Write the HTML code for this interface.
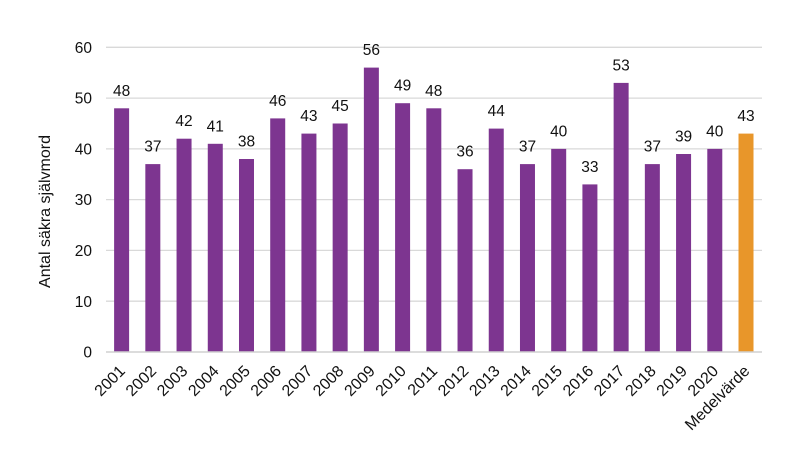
<!DOCTYPE html>
<html>
<head>
<meta charset="utf-8">
<style>
html,body{margin:0;padding:0;background:#fff;}
svg{display:block;}
text{font-family:"Liberation Sans",Arial,sans-serif;fill:#111;}
</style>
</head>
<body>
<svg width="800" height="450" viewBox="0 0 800 450" xmlns="http://www.w3.org/2000/svg">
<rect width="800" height="450" fill="#fff"/>
<!-- gridlines -->
<g stroke="#d9d9d9" stroke-width="1.3">
<line x1="106" x2="762" y1="47.3" y2="47.3"/>
<line x1="106" x2="762" y1="98.1" y2="98.1"/>
<line x1="106" x2="762" y1="148.9" y2="148.9"/>
<line x1="106" x2="762" y1="199.6" y2="199.6"/>
<line x1="106" x2="762" y1="250.4" y2="250.4"/>
<line x1="106" x2="762" y1="301.2" y2="301.2"/>
</g>
<!-- y tick labels -->
<g font-size="15.5" text-anchor="end">
<text x="92" y="52.9">60</text>
<text x="92" y="103.7">50</text>
<text x="92" y="154.5">40</text>
<text x="92" y="205.2">30</text>
<text x="92" y="256">20</text>
<text x="92" y="306.8">10</text>
<text x="92" y="357.6">0</text>
</g>
<!-- y axis title -->
<text font-size="16" text-anchor="middle" transform="translate(50,211.5) rotate(-90)">Antal säkra självmord</text>
<!-- bars -->
<g fill="#7d3590">
<rect x="114.11" y="108.3" width="15" height="243.7"/>
<rect x="145.33" y="164.1" width="15" height="187.9"/>
<rect x="176.55" y="138.7" width="15" height="213.3"/>
<rect x="207.77" y="143.8" width="15" height="208.2"/>
<rect x="238.99" y="159.0" width="15" height="193.0"/>
<rect x="270.21" y="118.4" width="15" height="233.6"/>
<rect x="301.43" y="133.6" width="15" height="218.4"/>
<rect x="332.65" y="123.5" width="15" height="228.5"/>
<rect x="363.87" y="67.6" width="15" height="284.4"/>
<rect x="395.09" y="103.2" width="15" height="248.8"/>
<rect x="426.31" y="108.3" width="15" height="243.7"/>
<rect x="457.53" y="169.2" width="15" height="182.8"/>
<rect x="488.75" y="128.6" width="15" height="223.4"/>
<rect x="519.97" y="164.1" width="15" height="187.9"/>
<rect x="551.19" y="148.9" width="15" height="203.1"/>
<rect x="582.41" y="184.4" width="15" height="167.6"/>
<rect x="613.63" y="82.9" width="15" height="269.1"/>
<rect x="644.85" y="164.1" width="15" height="187.9"/>
<rect x="676.07" y="154.0" width="15" height="198.0"/>
<rect x="707.29" y="148.9" width="15" height="203.1"/>
</g>
<rect x="738.51" y="133.6" width="15" height="218.4" fill="#e8962a"/>
<!-- axis line -->
<line x1="106" x2="762" y1="352" y2="352" stroke="#d0d0d0" stroke-width="1.5"/>
<!-- value labels -->
<g font-size="15.5" text-anchor="middle">
<text x="121.61" y="95.8">48</text>
<text x="152.83" y="151.6">37</text>
<text x="184.05" y="126.2">42</text>
<text x="215.27" y="131.3">41</text>
<text x="246.49" y="146.5">38</text>
<text x="277.71" y="105.9">46</text>
<text x="308.93" y="121.1">43</text>
<text x="340.15" y="111">45</text>
<text x="371.37" y="55.1">56</text>
<text x="402.59" y="90.7">49</text>
<text x="433.81" y="95.8">48</text>
<text x="465.03" y="156.7">36</text>
<text x="496.25" y="116.1">44</text>
<text x="527.47" y="151.6">37</text>
<text x="558.69" y="136.4">40</text>
<text x="589.91" y="171.9">33</text>
<text x="621.13" y="70.4">53</text>
<text x="652.35" y="151.6">37</text>
<text x="683.57" y="141.5">39</text>
<text x="714.79" y="136.4">40</text>
<text x="746.01" y="121.1">43</text>
</g>
<!-- x labels -->
<g font-size="16" text-anchor="end">
<text transform="translate(126.1,372) rotate(-45)">2001</text>
<text transform="translate(157.3,372) rotate(-45)">2002</text>
<text transform="translate(188.5,372) rotate(-45)">2003</text>
<text transform="translate(219.8,372) rotate(-45)">2004</text>
<text transform="translate(251,372) rotate(-45)">2005</text>
<text transform="translate(282.2,372) rotate(-45)">2006</text>
<text transform="translate(313.4,372) rotate(-45)">2007</text>
<text transform="translate(344.6,372) rotate(-45)">2008</text>
<text transform="translate(375.9,372) rotate(-45)">2009</text>
<text transform="translate(407.1,372) rotate(-45)">2010</text>
<text transform="translate(438.3,372) rotate(-45)">2011</text>
<text transform="translate(469.5,372) rotate(-45)">2012</text>
<text transform="translate(500.8,372) rotate(-45)">2013</text>
<text transform="translate(532,372) rotate(-45)">2014</text>
<text transform="translate(563.2,372) rotate(-45)">2015</text>
<text transform="translate(594.4,372) rotate(-45)">2016</text>
<text transform="translate(625.6,372) rotate(-45)">2017</text>
<text transform="translate(656.9,372) rotate(-45)">2018</text>
<text transform="translate(688.1,372) rotate(-45)">2019</text>
<text transform="translate(719.3,372) rotate(-45)">2020</text>
<text transform="translate(750.5,372) rotate(-45)">Medelvärde</text>
</g>
</svg>
</body>
</html>
